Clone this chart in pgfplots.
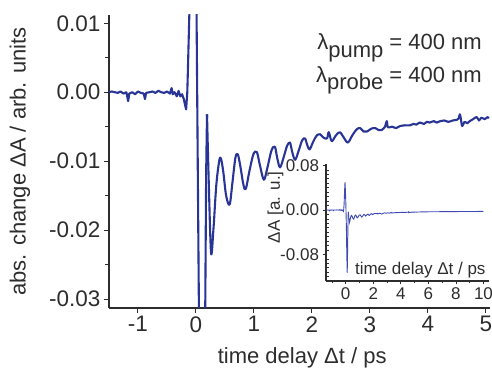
\documentclass[border=0pt]{standalone}
\usepackage{fontspec}
\setmainfont{Liberation Sans}
\usepackage{pgfplots}
\usepackage{pgfplotstable}
\pgfplotsset{compat=1.18}
\definecolor{dblue}{RGB}{40,52,150}
\definecolor{iblue}{RGB}{62,74,178}
\definecolor{axgray}{RGB}{45,45,45}

\pgfplotstableread{
x y
-1.50 0.0000
-1.45 0.0001
-1.40 0.0000
-1.35 -0.0001
-1.30 0.0001
-1.25 -0.0002
-1.20 0.0000
-1.17 -0.0013
-1.15 -0.0002
-1.10 0.0000
-1.05 -0.0003
-1.00 0.0001
-0.95 -0.0001
-0.90 -0.0002
-0.88 -0.0010
-0.86 -0.0001
-0.80 0.0000
-0.75 0.0001
-0.70 -0.0001
-0.65 0.0002
-0.60 0.0000
-0.55 -0.0001
-0.50 0.0001
-0.45 -0.0002
-0.42 0.0006
-0.40 -0.0003
-0.37 0.0000
-0.33 -0.0006
-0.30 0.0002
-0.27 -0.0006
-0.24 -0.0003
-0.21 -0.0010
-0.19 -0.0018
-0.17 -0.0025
-0.15 0.0000
-0.14 0.0030
-0.115 0.0112
-0.08 0.0350
-0.05 0.0500
-0.02 0.0350
0.01 0.0112
0.03 -0.0100
0.05 -0.0310
0.08 -0.0800
0.11 -0.1130
0.14 -0.0700
0.16 -0.0310
0.175 -0.0120
0.19 -0.0032
}\spikedata

\pgfplotstableread{
x y
0.19 -0.0032
0.22 -0.0130
0.26 -0.0233
0.30 -0.0200
0.35 -0.0135
0.40 -0.0100
0.43 -0.0096
0.47 -0.0115
0.52 -0.0150
0.58 -0.0163
0.63 -0.0130
0.68 -0.0095
0.72 -0.0090
0.76 -0.0105
0.82 -0.0135
0.86 -0.0140
0.92 -0.0115
0.99 -0.0090
1.05 -0.0087
1.10 -0.0105
1.17 -0.0127
1.23 -0.0110
1.30 -0.0085
1.36 -0.0079
1.40 -0.0095
1.45 -0.0109
1.52 -0.0092
1.57 -0.0078
1.62 -0.0073
1.66 -0.0087
1.71 -0.0098
1.77 -0.0085
1.83 -0.0070
1.88 -0.0067
1.92 -0.0077
1.96 -0.0083
2.02 -0.0072
2.08 -0.0063
2.14 -0.0061
2.20 -0.0066
2.26 -0.0067
2.29 -0.0058
2.34 -0.0071
2.41 -0.0063
2.48 -0.0058
2.55 -0.0066
2.62 -0.0073
2.70 -0.0062
2.77 -0.0054
2.83 -0.0052
2.89 -0.0057
2.95 -0.0057
3.02 -0.0053
3.09 -0.0052
3.15 -0.0055
3.20 -0.0055
3.26 -0.0050
3.29 -0.0042
3.31 -0.0051
3.38 -0.0050
3.45 -0.0052
3.52 -0.0049
3.60 -0.0048
3.69 -0.0048
3.75 -0.0046
3.80 -0.0047
3.86 -0.0044
3.93 -0.0046
3.98 -0.0043
4.03 -0.0044
4.10 -0.0042
4.15 -0.0044
4.21 -0.0042
4.28 -0.0041
4.35 -0.0043
4.43 -0.0041
4.50 -0.0040
4.53 -0.0038
4.55 -0.0032
4.57 -0.0040
4.59 -0.0049
4.63 -0.0043
4.68 -0.0045
4.72 -0.0042
4.78 -0.0039
4.84 -0.0036
4.88 -0.0041
4.92 -0.0037
4.98 -0.0039
5.03 -0.0036
5.05 -0.0038
}\oscdata

\pgfplotstableread{
x y
5.05 -0.0038
5.50 -0.0034
6.00 -0.0032
6.50 -0.0031
7.00 -0.0030
7.50 -0.0028
8.00 -0.0028
8.50 -0.0027
9.00 -0.0026
9.50 -0.0026
10.00 -0.0025
}\taildata

\begin{document}
\begin{tikzpicture}
\useasboundingbox (0,0) rectangle (492bp,373bp);
\begin{axis}[
  at={(109bp,65bp)}, anchor=south west,
  scale only axis, width=381bp, height=293bp,
  xmin=-1.5, xmax=5.07, ymin=-0.0313, ymax=0.0112,
  axis x line*=bottom, axis y line*=left,
  axis line style={axgray, line width=1.2bp},
  tick align=outside,
  tick style={axgray, line width=1bp},
  major tick length=5bp, minor tick length=4bp,
  xtick={-1,0,1,2,3,4,5},
  ytick={-0.03,-0.02,-0.01,0,0.01},
  yticklabels={-0.03,-0.02,-0.01,0.00,0.01},
  minor ytick={-0.025,-0.015,-0.005,0.005},
  scaled y ticks=false, scaled x ticks=false,
  /pgf/number format/assume math mode=true,
  tick label style={font=\fontsize{22.5bp}{26bp}\selectfont, text=axgray},
  ylabel={abs. change ΔA / arb. units},
  ylabel style={at={(axis description cs:-0.234,0.5)}, anchor=center, font=\fontsize{22bp}{26bp}\selectfont, text=axgray},
  xlabel={time delay Δt / ps},
  xlabel style={at={(axis description cs:0.507,-0.191)}, anchor=base, font=\fontsize{22bp}{26bp}\selectfont, text=axgray},
]
\addplot[dblue, line width=2.1bp, line join=round] table {\spikedata};
\addplot[dblue, line width=2.1bp, line join=round, smooth, tension=0.55] table {\oscdata};
\end{axis}
\begin{axis}[
  at={(326bp,92bp)}, anchor=south west,
  scale only axis, width=163bp, height=117bp,
  xmin=-1.43, xmax=10.4, ymin=-0.1276, ymax=0.0827,
  axis x line*=bottom, axis y line*=left,
  axis line style={axgray, line width=1.1bp},
  tick align=outside,
  tick style={axgray, line width=0.8bp},
  major tick length=3.5bp, minor tick length=2.5bp,
  xtick={0,2,4,6,8,10},
  minor xtick={-1,1,3,5,7,9},
  ytick={-0.08,0,0.08},
  yticklabels={-0.08,0.00,0.08},
  minor ytick={-0.12,-0.112,-0.104,-0.096,-0.088,-0.072,-0.064,-0.056,-0.048,-0.04,-0.032,-0.024,-0.016,-0.008,0.008,0.016,0.024,0.032,0.04,0.048,0.056,0.064,0.072},
  minor y tick style={xshift=2.5bp},
  scaled y ticks=false, scaled x ticks=false,
  /pgf/number format/assume math mode=true,
  tick label style={font=\fontsize{17bp}{20bp}\selectfont, text=axgray},
  ylabel={ΔA [a. u.]},
  ylabel style={at={(axis description cs:-0.31,0.63)}, anchor=center, font=\fontsize{17bp}{20bp}\selectfont, text=axgray},
  xlabel={time delay Δt / ps},
  xlabel style={at={(axis description cs:1,0)}, anchor=base east, yshift=6bp, font=\fontsize{17bp}{20bp}\selectfont, text=axgray},
]
\addplot[iblue, line width=0.9bp] table {\spikedata};
\addplot[iblue, line width=0.9bp] table {\oscdata};
\addplot[iblue, line width=0.9bp] table {\taildata};
\end{axis}
\node[anchor=base east, inner sep=0pt, text=axgray, font=\fontsize{22bp}{26bp}\selectfont] at (482bp,323bp)
  {λ\raisebox{-8bp}{pump} = 400 nm};
\node[anchor=base east, inner sep=0pt, text=axgray, font=\fontsize{22bp}{26bp}\selectfont] at (482bp,290bp)
  {λ\raisebox{-7bp}{probe} = 400 nm};
\end{tikzpicture}
\end{document}
